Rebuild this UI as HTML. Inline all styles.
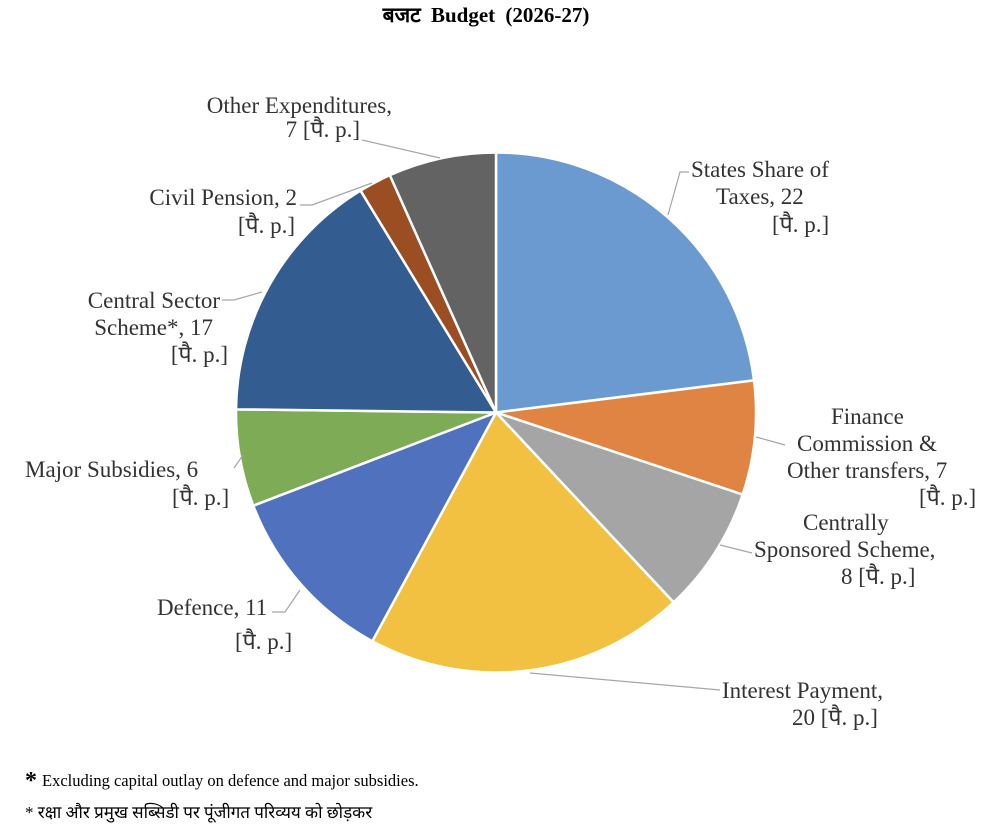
<!DOCTYPE html>
<html><head><meta charset="utf-8"><style>
html,body{margin:0;padding:0;background:#fff}
svg{display:block}
text{font-family:"Liberation Serif","Noto Serif CJK SC","Noto Sans CJK SC",serif;fill:#333;font-size:23px}
</style></head><body>
<svg id="s" width="984" height="832" viewBox="0 0 984 832" xmlns="http://www.w3.org/2000/svg">
<g id="pie"></g>
<g stroke="#a6a6a6" stroke-width="1.2" fill="none">
<polyline points="362,140 440,158"/>
<polyline points="300,205 312,205 372,183"/>
<polyline points="222,300 234,300 262,292"/>
<polyline points="689,172 680,172 668,215"/>
<polyline points="785,445 756,437"/>
<polyline points="752,553 720,545"/>
<polyline points="720,690 530,673"/>
<polyline points="272,612 285,612 300,590"/>
<polyline points="234,468 243,455"/>
</g>
<text x="486" y="22" text-anchor="middle" font-weight="bold" style="font-size:21px;fill:#000;word-spacing:5px">बजट  Budget  (2026-27)</text>
<g>
<text x="392" y="113" text-anchor="end">Other Expenditures,</text>
<text x="360" y="137" text-anchor="end">7 [पै. p.]</text>
<text x="297" y="205" text-anchor="end">Civil Pension, 2</text>
<text x="295" y="233" text-anchor="end">[पै. p.]</text>
<text x="220" y="308" text-anchor="end">Central Sector</text>
<text x="213" y="335" text-anchor="end">Scheme*, 17</text>
<text x="228" y="362" text-anchor="end">[पै. p.]</text>
<text x="691" y="177">States Share of</text>
<text x="716" y="204">Taxes, 22</text>
<text x="772" y="232">[पै. p.]</text>
<text x="831" y="424">Finance</text>
<text x="797" y="451">Commission &amp;</text>
<text x="787" y="478">Other transfers, 7</text>
<text x="919" y="505">[पै. p.]</text>
<text x="803" y="530">Centrally</text>
<text x="754" y="557">Sponsored Scheme,</text>
<text x="841" y="584">8 [पै. p.]</text>
<text x="722" y="698">Interest Payment,</text>
<text x="792" y="725">20 [पै. p.]</text>
<text x="157" y="615">Defence, 11</text>
<text x="235" y="649">[पै. p.]</text>
<text x="25" y="477">Major Subsidies, 6</text>
<text x="172" y="505">[पै. p.]</text>
</g>
<text x="25" y="788" style="font-size:24px;fill:#000;font-weight:bold">*</text>
<text x="42" y="786" style="font-size:16.5px;fill:#000">Excluding capital outlay on defence and major subsidies.</text>
<text x="25" y="818" style="font-size:17px;fill:#000">*  रक्षा और प्रमुख सब्सिडी पर पूंजीगत परिव्यय को छोड़कर</text>
</svg>
<script>
var cx=496,cy=412.5,r=260;
var b=[0,82.9,108.4,136.9,208.4,249,270.7,328.6,335.9,360];
var c=["#6a9ad0","#e08444","#a5a5a5","#f2c142","#4f71be","#7eab55","#335d90","#9c4e23","#636363"];
function p(a){a=a*Math.PI/180;return (cx+r*Math.sin(a)).toFixed(2)+","+(cy-r*Math.cos(a)).toFixed(2);}
var h="";
for(var i=0;i<9;i++){var l=(b[i+1]-b[i])>180?1:0;
h+='<path d="M'+cx+','+cy+' L'+p(b[i])+' A'+r+','+r+' 0 '+l+' 1 '+p(b[i+1])+' Z" fill="'+c[i]+'" stroke="#fff" stroke-width="2.5" stroke-linejoin="round"/>';}
document.getElementById("pie").innerHTML=h;
</script>
</body></html>
